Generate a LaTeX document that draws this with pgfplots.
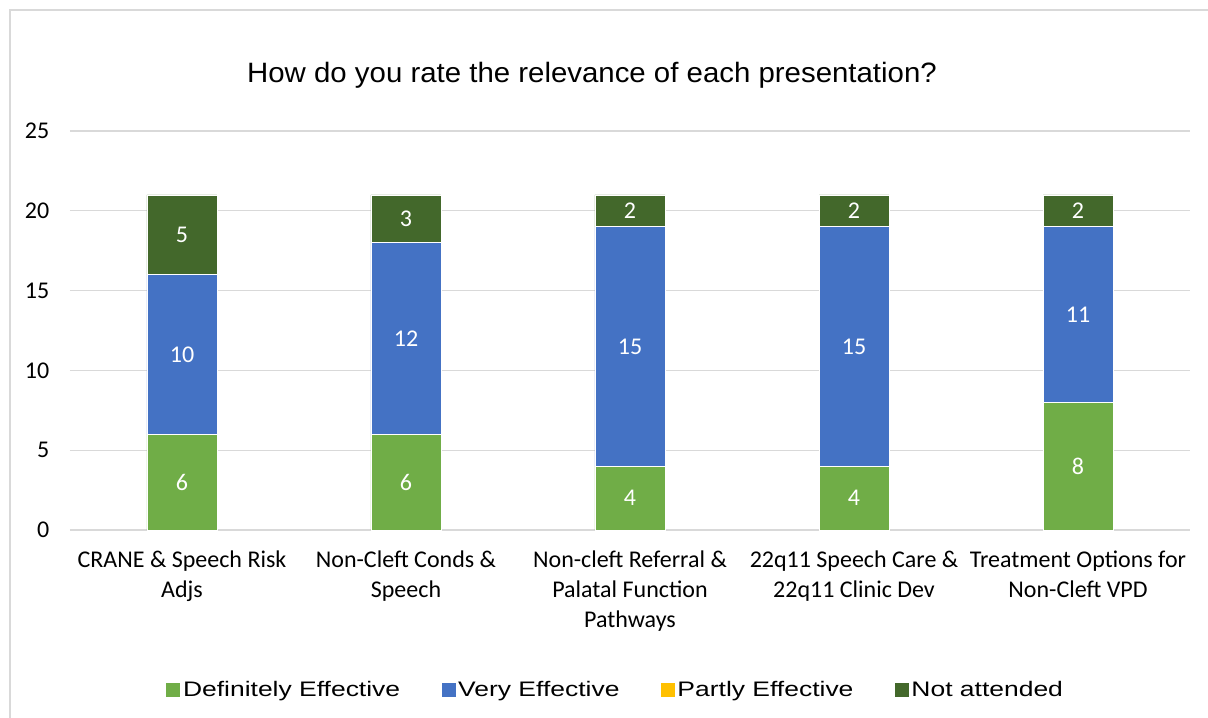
\documentclass[border=0pt]{standalone}
\usepackage{pgfplots}
\pgfplotsset{compat=1.18}
\usepackage{fontspec}
\setmainfont{Carlito}
\newfontfamily\titlefont[FakeStretch=1.05]{Liberation Sans}
\newfontfamily\legfont[FakeStretch=1.26]{Liberation Sans}

\definecolor{defeff}{HTML}{70AD47}
\definecolor{veryeff}{HTML}{4472C4}
\definecolor{partlyeff}{HTML}{FFC000}
\definecolor{notatt}{HTML}{43682B}
\definecolor{gridgray}{HTML}{D9D9D9}

\begin{document}
\begin{tikzpicture}
\begin{axis}[
  name=ax,
  scale only axis, width=840pt, height=299.25pt,
  ybar stacked, bar width=52.5pt,
  xmin=-0.5, xmax=4.5, ymin=0, ymax=25,
  xtick={0,1,2,3,4},
  xticklabels={
    {CRANE \& Speech Risk\\Adjs},
    {Non-Cleft Conds \&\\Speech},
    {Non-cleft Referral \&\\Palatal Function\\Pathways},
    {22q11 Speech Care \&\\22q11 Clinic Dev},
    {Treatment Options for\\Non-Cleft VPD}},
  ytick={0,5,10,15,20,25},
  ymajorgrids, grid style={gridgray, line width=1pt},
  axis line style={draw=none},
  major tick length=0pt,
  tick label style={font=\fontsize{18}{22.5}\selectfont},
  /pgf/number format/assume math mode=true,
  xticklabel style={align=center, anchor=north, yshift=-12pt},
  yticklabel style={anchor=east, xshift=-12pt},
  every node near coord/.style={anchor=center, color=white,
    font=\fontsize{18}{21}\selectfont},
  legend style={at={(0.4875,-0.401)}, anchor=center,
    legend columns=-1, draw=none,
    font=\legfont\fontsize{15.75}{19}\selectfont,
    /tikz/every even column/.append style={column sep=29pt}},
  legend image code/.code={\fill[#1,draw=none] (0pt,-5.25pt) rectangle (10.5pt,5.25pt);},
]
\addplot[fill=defeff, draw=white, line width=0.4pt, nodes near coords]
  coordinates {(0,6) (1,6) (2,4) (3,4) (4,8)};
\addplot[fill=veryeff, draw=white, line width=0.4pt, nodes near coords]
  coordinates {(0,10) (1,12) (2,15) (3,15) (4,11)};
\addplot[fill=partlyeff, draw=none]
  coordinates {(0,0) (1,0) (2,0) (3,0) (4,0)};
\addplot[fill=notatt, draw=white, line width=0.4pt, nodes near coords]
  coordinates {(0,5) (1,3) (2,2) (3,2) (4,2)};
\legend{Definitely Effective, Very Effective, Partly Effective, Not attended}
\end{axis}
\pgfresetboundingbox
\begin{scope}[shift={(ax.south west)}, xshift=-52.5pt, yshift=-141pt]
\path[use as bounding box] (0pt,0pt) rectangle (906pt,538.5pt);
\draw[gridgray, line width=1.1pt] (7.5pt,-5pt) -- (7.5pt,531pt) -- (915pt,531pt);
\node[font=\titlefont\fontsize{21}{25}\selectfont] at (444pt,482.25pt)
  {How do you rate the relevance of each presentation?};
\end{scope}
\end{tikzpicture}
\end{document}
